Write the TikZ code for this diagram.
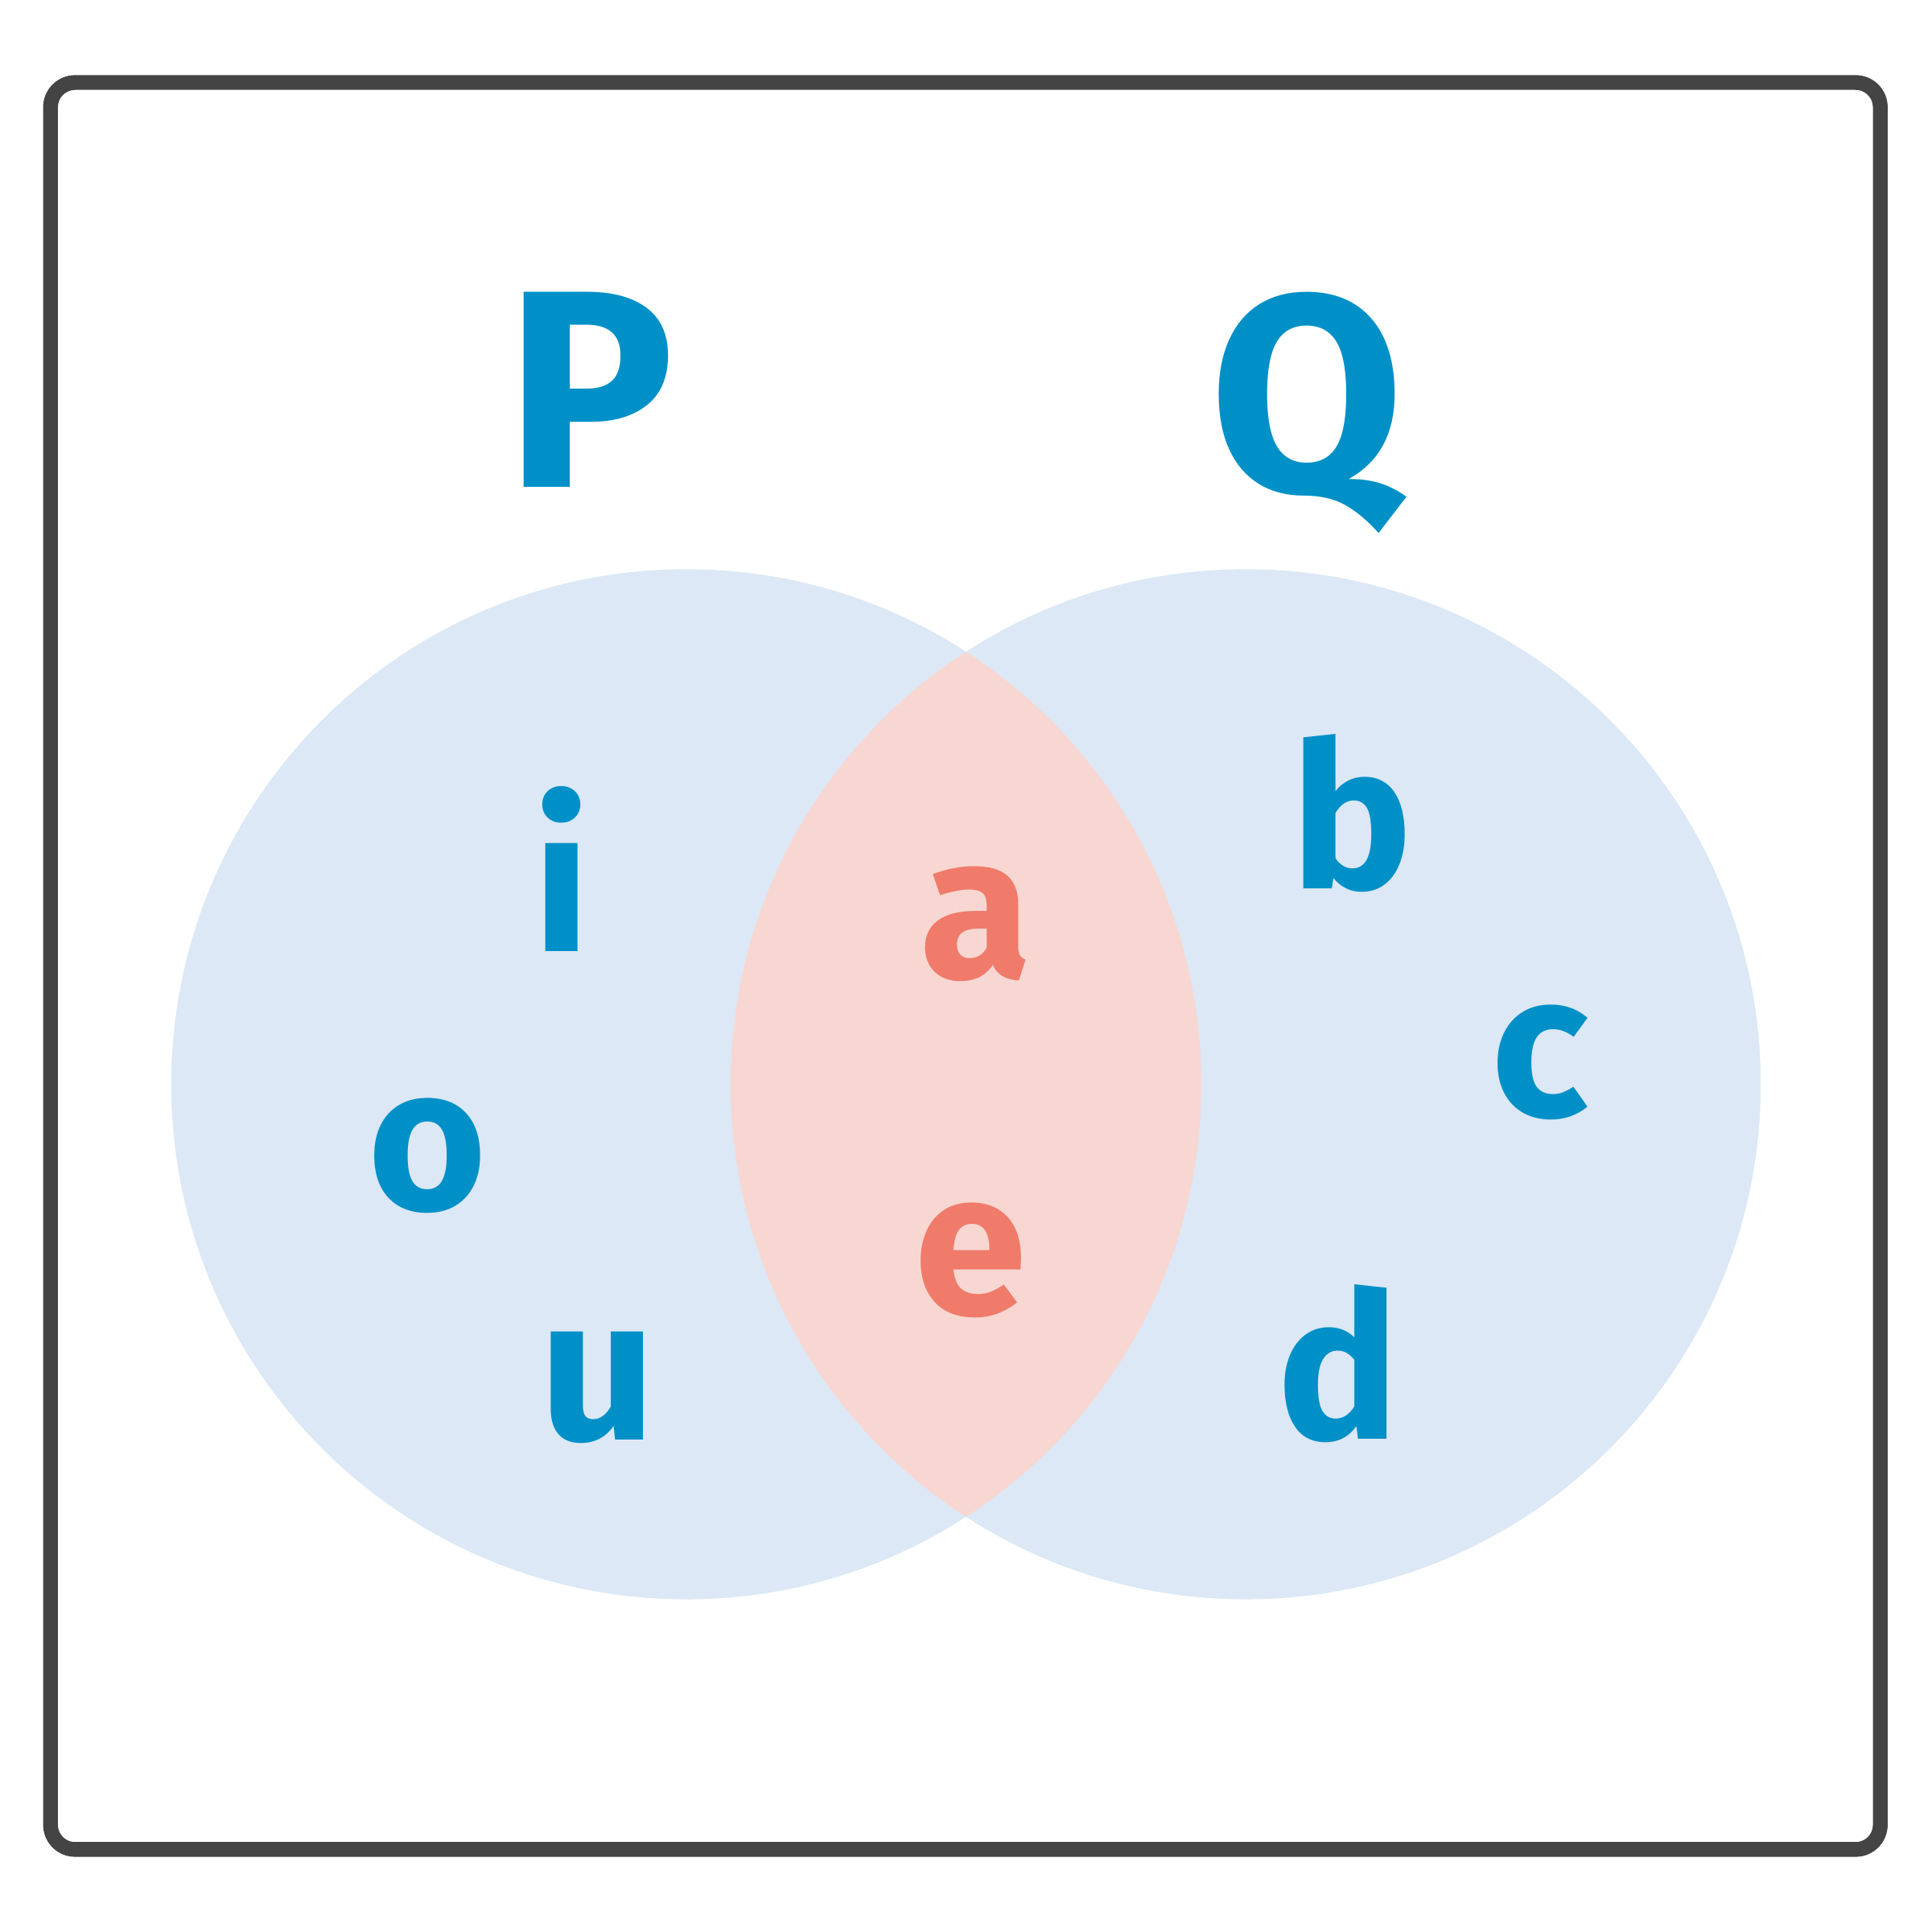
\documentclass[tikz,border=0pt]{standalone}
\usepackage{fontspec}
\setsansfont{Fira Sans}
\usepackage{xcolor}
\definecolor{setblue}{HTML}{DCE8F5}
\definecolor{setpink}{HTML}{F8D7D2}
\definecolor{letblue}{HTML}{0090C8}
\definecolor{letpink}{HTML}{F07B6B}
\definecolor{framegray}{HTML}{444444}
\tikzset{
  elem/.style={inner sep=0pt,text=letblue,font=\sffamily\bfseries\fontsize{47}{47}\selectfont},
  both/.style={elem,text=letpink},
  setname/.style={elem,font=\sffamily\bfseries\fontsize{65}{65}\selectfont}
}
\begin{document}
\begin{tikzpicture}
  \useasboundingbox (0,0) rectangle (15.68,15.68);
  \coordinate (P) at (5.57,6.88);
  \coordinate (Q) at (10.11,6.88);
  \fill[setblue] (P) circle (4.18) (Q) circle (4.18);
  \begin{scope}
    \clip (P) circle (4.18);
    \fill[setpink] (Q) circle (4.18);
  \end{scope}
  \draw[framegray,line width=0.12cm,rounded corners=0.2cm] (0.41,0.67) rectangle (15.26,15.01);
  \node[setname] (nameP) at (4.79,12.52) {P};
  \node[setname] (nameQ) at (10.61,12.33) {Q};
  \node[elem] (i) at (4.56,8.63) {i};
  \node[elem] (o) at (3.47,6.30) {o};
  \node[elem] (u) at (4.85,4.42) {u};
  \node[both] (a) at (7.92,8.18) {a};
  \node[both] (e) at (7.88,5.45) {e};
  \node[elem] (b) at (10.97,9.08) {b};
  \node[elem] (c) at (12.50,7.06) {c};
  \node[elem] (d) at (10.86,4.61) {d};
\end{tikzpicture}
\end{document}
